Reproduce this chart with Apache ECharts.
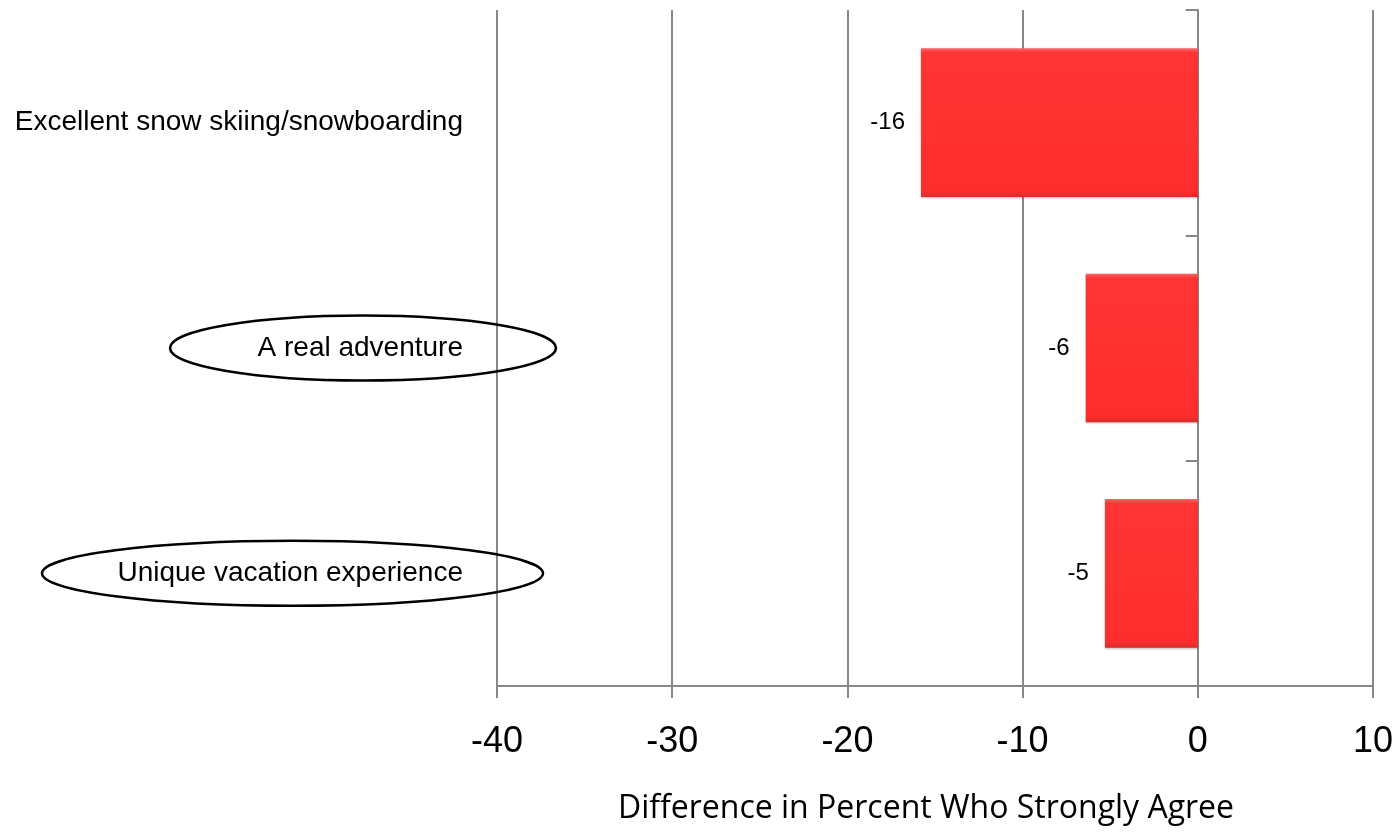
<!DOCTYPE html>
<html>
<head>
<meta charset="utf-8">
<script src="https://cdn.jsdelivr.net/npm/echarts@6/dist/echarts.min.js"></script>
<style>
  html, body { margin: 0; padding: 0; background: #ffffff; }
  #chart { width: 1399px; height: 833px; }
</style>
</head>
<body>
<div id="chart"></div>
<script>
// Survey attributes, top to bottom
const categories = [
  'Excellent snow skiing/snowboarding',
  'A real adventure',
  'Unique vacation experience'
];
// Difference in percent who strongly agree
const differences = [-15.8, -6.4, -5.3];
// Value axis range and step
const axisMin = -40;
const axisMax = 10;
const axisStep = 10;
// Attributes that are circled beside their label
const circled = ['A real adventure', 'Unique vacation experience'];

const chart = echarts.init(document.getElementById('chart'), null, { renderer: 'canvas' });

const gridLeft = 497, gridRight = 26, gridTop = 10, gridBottom = 147;
const axisGrey = '#878787';

chart.setOption({
  animation: false,
  backgroundColor: '#ffffff',
  grid: {
    left: gridLeft, right: gridRight, top: gridTop, bottom: gridBottom,
    containLabel: false,
    outerBoundsMode: 'none'
  },
  xAxis: {
    type: 'value',
    min: axisMin,
    max: axisMax,
    interval: axisStep,
    position: 'bottom',
    axisLine: { show: true, onZero: false, lineStyle: { color: axisGrey, width: 2 } },
    axisTick: { show: true, length: 12, lineStyle: { color: axisGrey, width: 2 } },
    splitLine: { show: true, lineStyle: { color: axisGrey, width: 2 } },
    axisLabel: {
      margin: 38,
      color: '#000000',
      fontFamily: 'Liberation Sans',
      fontSize: 36
    },
    name: 'Difference in Percent Who Strongly Agree',
    nameLocation: 'middle',
    nameGap: 107,
    nameTextStyle: {
      color: '#000000',
      fontFamily: 'Open Sans',
      fontSize: 32,
      padding: [0, 18, 0, 0]
    }
  },
  yAxis: [
    {
      // category labels at the far left
      type: 'category',
      data: categories,
      inverse: true,
      position: 'left',
      axisLine: { show: false },
      axisTick: { show: false },
      splitLine: { show: false },
      axisLabel: {
        margin: 34,
        color: '#000000',
        fontFamily: 'Liberation Sans',
        fontSize: 28
      }
    },
    {
      // category axis line and ticks drawn on the zero value
      type: 'category',
      data: categories,
      inverse: true,
      position: 'left',
      axisLine: { show: true, onZero: true, onZeroAxisIndex: 0, lineStyle: { color: axisGrey, width: 2 } },
      axisTick: { show: true, length: 12, lineStyle: { color: axisGrey, width: 2 } },
      axisLabel: { show: false },
      splitLine: { show: false }
    }
  ],
  series: [
    {
      type: 'bar',
      yAxisIndex: 0,
      data: differences,
      barWidth: '66%',
      itemStyle: {
        color: {
          type: 'linear', x: 0, y: 0, x2: 0, y2: 1,
          colorStops: [
            { offset: 0, color: '#ff6565' },
            { offset: 0.03, color: '#ff3434' },
            { offset: 0.96, color: '#ff2e2e' },
            { offset: 1, color: '#d82a2a' }
          ]
        },
        shadowColor: 'rgba(0,0,0,0.25)',
        shadowBlur: 2,
        shadowOffsetY: 1
      },
      label: {
        show: true,
        position: 'left',
        distance: 16,
        color: '#000000',
        fontFamily: 'Liberation Sans',
        fontSize: 24,
        formatter: (p) => String(Math.round(p.value))
      }
    }
  ]
});

// Ellipses drawn around the highlighted attribute labels
function drawRings() {
  const ringSizes = {
    'A real adventure': { rx: 193, ry: 32.5, right: 556 },
    'Unique vacation experience': { rx: 250.5, ry: 32.5, right: 543 }
  };
  const elements = circled.map((name) => {
    const cy = chart.convertToPixel({ yAxisIndex: 0 }, name);
    const s = ringSizes[name];
    return {
      type: 'ellipse',
      shape: { cx: s.right - s.rx, cy: cy, rx: s.rx, ry: s.ry },
      style: { fill: 'none', stroke: '#000000', lineWidth: 2.5 },
      z: 5
    };
  });
  chart.setOption({ graphic: elements });
}
drawRings();
</script>
</body>
</html>
